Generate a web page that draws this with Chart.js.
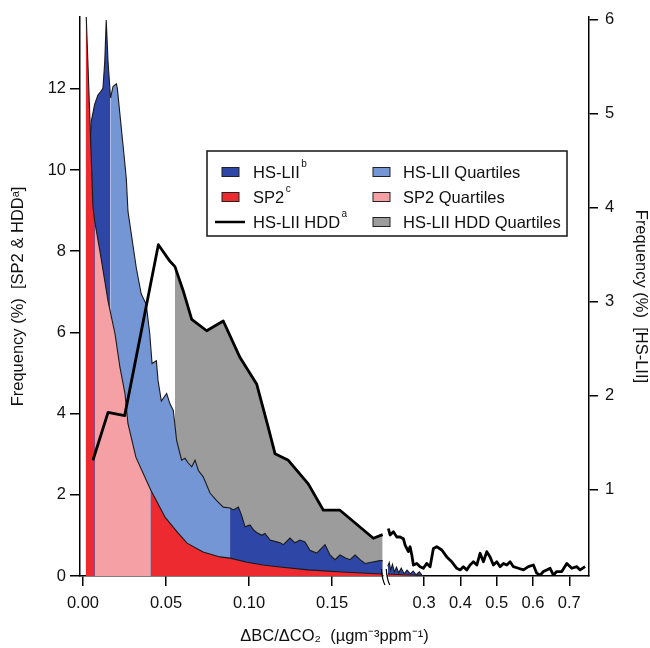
<!DOCTYPE html>
<html><head><meta charset="utf-8">
<script src="https://cdn.jsdelivr.net/npm/chart.js@4"></script>
<style>html,body{margin:0;padding:0;background:#fff}canvas{display:block}</style>
</head><body>
<canvas id="c" width="650" height="648"></canvas>
<script>
const FONT = '"Liberation Sans", Arial, Helvetica, sans-serif';

// ---- data (x in µg m-3 ppm-1, y in %) ----
const xTickValues = [0, 0.05, 0.10, 0.15, 0.3, 0.4, 0.5, 0.6, 0.7];
const xTickLabels = ['0.00', '0.05', '0.10', '0.15', '0.3', '0.4', '0.5', '0.6', '0.7'];

const sp2Left = [[0.0016,14.2],[0.004,11.44],[0.006,9.1],[0.007,8.75],[0.0102,8.0],[0.0151,6.77],[0.0193,5.96],[0.0223,5.13],[0.0253,4.49],[0.0271,3.75],[0.0319,2.92],[0.0408,2.12],[0.0494,1.45],[0.0572,1.06],[0.0627,0.81],[0.0723,0.59],[0.0825,0.47],[0.0886,0.44],[0.0988,0.34],[0.1084,0.27],[0.1187,0.22],[0.1355,0.15],[0.156,0.10],[0.1805,0.05]];
const sp2Right = [[0.2,0.05],[0.24,0.03],[0.28,0.02],[0.3,0.0]];

const hsliiLeft = [[0.0035,4.4],[0.005,4.92],[0.007,5.10],[0.009,5.20],[0.0108,5.24],[0.012,5.27],[0.0131,5.55],[0.014,6.0],[0.0151,5.55],[0.0166,5.17],[0.0181,5.29],[0.0201,5.32],[0.0207,5.27],[0.0221,5.02],[0.0241,4.67],[0.0261,4.31],[0.0271,3.96],[0.0291,3.72],[0.0321,3.36],[0.0351,3.08],[0.0381,2.97],[0.0402,2.66],[0.0416,2.34],[0.0442,2.37],[0.0452,2.16],[0.0472,1.94],[0.0504,2.02],[0.0524,1.91],[0.0544,1.84],[0.0564,1.52],[0.0594,1.31],[0.0614,1.33],[0.0634,1.28],[0.0655,1.24],[0.0675,1.31],[0.0695,1.20],[0.0725,1.13],[0.0765,0.96],[0.0805,0.88],[0.0845,0.81],[0.0886,0.80],[0.0905,0.78],[0.0936,0.81],[0.0956,0.72],[0.0976,0.60],[0.1006,0.62],[0.1026,0.57],[0.1046,0.54],[0.1077,0.51],[0.1096,0.53],[0.1127,0.46],[0.1167,0.44],[0.1187,0.43],[0.1207,0.41],[0.1247,0.48],[0.1277,0.43],[0.1307,0.46],[0.1337,0.44],[0.1367,0.35],[0.1408,0.32],[0.1458,0.41],[0.1488,0.30],[0.1518,0.25],[0.1548,0.30],[0.1578,0.27],[0.1608,0.25],[0.1639,0.30],[0.1669,0.25],[0.1699,0.21],[0.1729,0.22],[0.1789,0.24],[0.1805,0.24]];
const hsliiRight = [[0.2,0.18],[0.204,0.22],[0.208,0.14],[0.213,0.2],[0.218,0.12],[0.224,0.17],[0.23,0.11],[0.237,0.16],[0.245,0.1],[0.253,0.14],[0.262,0.1],[0.27,0.13],[0.278,0.09],[0.287,0.12],[0.295,0.08],[0.3,0.05]];

const hddLeft = [[0.006,2.85],[0.0151,4.03],[0.0251,3.95],[0.0454,8.16],[0.0524,7.75],[0.0554,7.62],[0.0604,7.02],[0.0655,6.32],[0.0745,6.04],[0.0845,6.28],[0.0946,5.38],[0.1046,4.73],[0.1116,3.66],[0.1157,3.01],[0.1237,2.85],[0.1357,2.27],[0.1448,1.62],[0.1548,1.62],[0.1749,0.93],[0.1805,1.02]];
const hddRight = [[0.2017,1.17],[0.2063,1.01],[0.2154,1.09],[0.2248,0.96],[0.2339,0.96],[0.243,0.92],[0.2477,0.76],[0.2567,0.60],[0.2614,0.72],[0.2661,0.52],[0.2705,0.27],[0.2799,0.31],[0.289,0.23],[0.2981,0.19],[0.3074,0.31],[0.3165,0.23],[0.3256,0.68],[0.335,0.72],[0.3488,0.64],[0.3625,0.47],[0.3763,0.35],[0.3901,0.19],[0.3992,0.15],[0.4083,0.23],[0.4176,0.15],[0.4267,0.27],[0.4358,0.35],[0.4452,0.27],[0.4543,0.56],[0.4634,0.35],[0.4727,0.60],[0.4818,0.47],[0.4909,0.27],[0.5003,0.35],[0.5094,0.23],[0.5185,0.31],[0.5278,0.27],[0.5369,0.35],[0.546,0.23],[0.5598,0.19],[0.5736,0.15],[0.5873,0.23],[0.6011,0.27],[0.6102,0.07],[0.6196,0.02],[0.6287,0.11],[0.6378,0.15],[0.6471,0.19],[0.6562,0.02],[0.6653,0.11],[0.6793,0.11],[0.6931,0.31],[0.7069,0.19],[0.7207,0.23],[0.7298,0.15],[0.7435,0.23]];

const sp2Quartiles = [0.007, 0.0408];
const hsliiQuartiles = [0.0166, 0.0886];
const hddQuartiles = [0.0554, 0.1807];

const legendLabels = [
  {col:0,row:0,kind:'box',key:'darkBlue',text:'HS-LII',sup:'b'},
  {col:1,row:0,kind:'box',key:'lightBlue',text:'HS-LII Quartiles'},
  {col:0,row:1,kind:'box',key:'red',text:'SP2',sup:'c'},
  {col:1,row:1,kind:'box',key:'pink',text:'SP2 Quartiles'},
  {col:0,row:2,kind:'line',key:'black',text:'HS-LII HDD',sup:'a'},
  {col:1,row:2,kind:'box',key:'gray',text:'HS-LII HDD Quartiles'}
];

const C = {red:'#ec2a2f', pink:'#f4a0a4', darkBlue:'#2e46a6', lightBlue:'#7596d4', gray:'#9c9c9c', black:'#000', white:'#ffffff'};

// ---- broken x axis transform ----
const BREAK_LO = 0.1807, BREAK_HI = 0.2, U_HI = 0.1836, K = 0.21867;
function brk(x) { return x <= BREAK_LO ? x : U_HI + (x - BREAK_HI) * K; }
const GAP_U = (BREAK_LO + U_HI) / 2;
const pts = arr => arr.map(p => ({x: brk(p[0]), y: p[1]}));
const joined = (a, b) => pts(a).concat([{x: GAP_U, y: null}], pts(b));

function quartileColor(q, inner, outer) {
  return ctx => {
    const m = (ctx.p0.parsed.x + ctx.p1.parsed.x) / 2;
    return (m > brk(q[0]) && m < brk(q[1])) ? inner : outer;
  };
}

const breakPlugin = {
  id: 'axisBreak',
  afterDraw(chart) {
    const {ctx, chartArea: a, scales: {x}} = chart;
    const p1 = x.getPixelForValue(brk(BREAK_LO)), p2 = x.getPixelForValue(brk(BREAK_HI));
    ctx.save();
    ctx.fillStyle = '#fff';
    ctx.fillRect(p1 + 0.5, a.bottom - 2, p2 - p1 - 1, 4);
    ctx.strokeStyle = '#000'; ctx.lineWidth = 1.2;
    for (const p of [p1, p2]) {
      ctx.beginPath();
      ctx.moveTo(p - 1.5, a.bottom - 7);
      ctx.quadraticCurveTo(p - 1, a.bottom + 3, p + 2, a.bottom + 9);
      ctx.stroke();
    }
    ctx.restore();
  }
};

const legendPlugin = {
  id: 'boxLegend',
  afterDraw(chart) {
    const ctx = chart.ctx;
    const L = 207, T = 151, W = 360, H = 85;
    const rows = [172, 197, 222];
    const cols = [{sw: 222, tx: 253}, {sw: 373, tx: 403}];
    ctx.save();
    ctx.fillStyle = '#fff'; ctx.fillRect(L, T, W, H);
    ctx.strokeStyle = '#222'; ctx.lineWidth = 1.6; ctx.strokeRect(L, T, W, H);
    for (const it of legendLabels) {
      const y = rows[it.row], c = cols[it.col];
      if (it.kind === 'box') {
        ctx.fillStyle = C[it.key]; ctx.fillRect(c.sw, y - 4.5, 17, 9);
        ctx.strokeStyle = '#222'; ctx.lineWidth = 1; ctx.strokeRect(c.sw, y - 4.5, 17, 9);
      } else {
        ctx.strokeStyle = '#000'; ctx.lineWidth = 2.5;
        ctx.beginPath(); ctx.moveTo(215, y); ctx.lineTo(245, y); ctx.stroke();
      }
      ctx.fillStyle = '#111'; ctx.textBaseline = 'middle'; ctx.textAlign = 'left';
      ctx.font = '16.5px ' + FONT;
      ctx.fillText(it.text, c.tx, y + 1);
      if (it.sup) {
        const w = ctx.measureText(it.text).width;
        ctx.font = '10px ' + FONT;
        ctx.fillText(it.sup, c.tx + w + 1.5, y - 8);
      }
    }
    ctx.restore();
  }
};

const tickFont = {family: FONT, size: 16.5};
const titleFont = {family: FONT, size: 16.5};

new Chart(document.getElementById('c'), {
  type: 'line',
  data: {
    datasets: [
      {label: 'HS-LII HDD', data: joined(hddLeft, hddRight), yAxisID: 'yL',
       borderColor: '#000', borderWidth: 2.8, borderJoinStyle: 'round', fill: false, order: 0},
      {label: 'SP2', data: joined(sp2Left, sp2Right), yAxisID: 'yL',
       borderColor: '#1a1a1a', borderWidth: 1.1, fill: 'origin', backgroundColor: C.red,
       segment: {backgroundColor: quartileColor(sp2Quartiles, C.pink, C.red)}, order: 1},
      {label: 'HS-LII', data: joined(hsliiLeft, hsliiRight), yAxisID: 'yR',
       borderColor: '#1a1a1a', borderWidth: 1.1, fill: 'origin', backgroundColor: C.darkBlue,
       segment: {backgroundColor: quartileColor(hsliiQuartiles, C.lightBlue, C.darkBlue)}, order: 2},
      {label: 'HS-LII HDD Quartiles', data: pts(hddLeft), yAxisID: 'yL',
       borderColor: 'rgba(0,0,0,0)', borderWidth: 0, fill: 'origin', backgroundColor: C.white,
       segment: {backgroundColor: quartileColor(hddQuartiles, C.gray, C.white)}, order: 3}
    ]
  },
  options: {
    responsive: false, animation: false, devicePixelRatio: 1,
    layout: {padding: {top: 15, left: 0, right: 0, bottom: 0}},
    elements: {point: {radius: 0}, line: {tension: 0}},
    plugins: {legend: {display: false}, tooltip: {enabled: false}},
    scales: {
      x: {
        type: 'linear', position: 'bottom', min: -0.0018, max: 0.3048,
        afterBuildTicks: s => { s.ticks = xTickValues.map(v => ({value: brk(v)})); },
        afterFit: s => { s.height = 72; },
        ticks: {autoSkip: false, maxRotation: 0, callback: (v, i) => xTickLabels[i], font: tickFont, color: '#111', padding: 8},
        grid: {drawOnChartArea: false, drawTicks: true, tickLength: 10, color: '#000', lineWidth: 1.5},
        border: {display: true, color: '#000', width: 1.5},
        title: {display: true, text: 'ΔBC/ΔCO₂  (µgm⁻³ppm⁻¹)', font: titleFont, color: '#111', padding: {top: 0, bottom: 2}}
      },
      yL: {
        type: 'linear', position: 'left', min: 0, max: 13.77,
        afterFit: s => { s.width = 80; },
        ticks: {stepSize: 2, includeBounds: false, font: tickFont, color: '#111', padding: 4},
        grid: {drawOnChartArea: false, drawTicks: true, tickLength: 10, color: '#000', lineWidth: 1.5},
        border: {display: true, color: '#000', width: 1.5},
        title: {display: true, text: 'Frequency (%)  [SP2 & HDDᵃ]', font: titleFont, color: '#111', padding: {top: 9}}
      },
      yR: {
        type: 'linear', position: 'right', min: 0.0764, max: 6.032,
        afterFit: s => { s.width = 61; },
        ticks: {stepSize: 1, includeBounds: false, font: tickFont, color: '#111', padding: 7},
        grid: {drawOnChartArea: false, drawTicks: true, tickLength: 9, color: '#000', lineWidth: 1.5},
        border: {display: true, color: '#000', width: 1.5},
        title: {display: true, text: 'Frequency (%)  [HS-LII]', font: titleFont, color: '#111', padding: {top: 0}}
      }
    }
  },
  plugins: [breakPlugin, legendPlugin]
});
</script>
</body></html>
